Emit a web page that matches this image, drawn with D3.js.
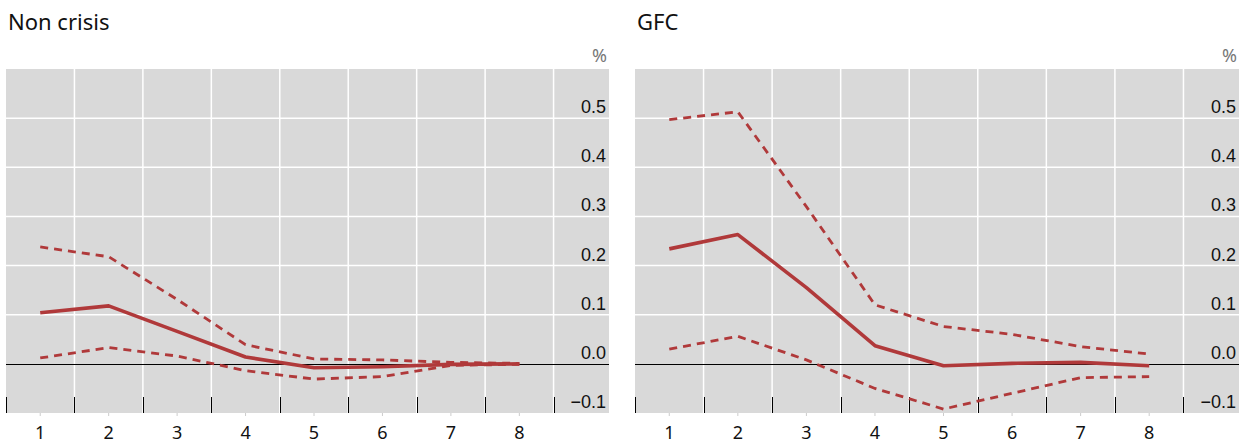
<!DOCTYPE html>
<html>
<head><meta charset="utf-8">
<title>Non crisis vs GFC</title>
<style>
body { margin:0; background:#fff; }
svg text { fill:#111; }
</style>
</head>
<body>
<svg width="1246" height="443"></svg>
<script src="https://d3js.org/d3.v7.min.js"></script>
<script>
// horizons on the x axis
var horizons = [1, 2, 3, 4, 5, 6, 7, 8];
var yTicks = [-0.1, 0.0, 0.1, 0.2, 0.3, 0.4, 0.5];

// Non crisis panel
var nonCrisisCentral = [0.104, 0.118, 0.066, 0.014, -0.008, -0.006, -0.001, 0.000];
var nonCrisisUpper   = [0.238, 0.218, 0.131, 0.039, 0.010, 0.008, 0.003, 0.001];
var nonCrisisLower   = [0.012, 0.033, 0.016, -0.014, -0.031, -0.026, -0.003, -0.001];

// GFC panel
var gfcCentral = [0.234, 0.263, 0.155, 0.037, -0.004, 0.001, 0.003, -0.004];
var gfcUpper   = [0.497, 0.513, 0.320, 0.120, 0.076, 0.060, 0.035, 0.020];
var gfcLower   = [0.030, 0.056, 0.008, -0.050, -0.092, -0.060, -0.028, -0.026];

var red = "#b0393a";
var svg = d3.select("svg");

var panels = [
  {title: "Non crisis", left: 6,   right: 609,  central: nonCrisisCentral, upper: nonCrisisUpper, lower: nonCrisisLower},
  {title: "GFC",        left: 635, right: 1239, central: gfcCentral,       upper: gfcUpper,       lower: gfcLower}
];

var plotTop = 69, plotBottom = 413;

var y = d3.scaleLinear().domain([-0.1, 0.6]).range([plotBottom, plotTop]);

panels.forEach(function(p) {
  var x = d3.scaleLinear().domain([0.5, 9.31]).range([p.left, p.right]);
  var g = svg.append("g");

  g.append("text")
    .attr("x", p.left + 2).attr("y", 30)
    .style("font-family", "'Noto Sans', 'Open Sans', sans-serif")
    .style("font-size", "22px")
    .text(p.title);

  g.append("text")
    .attr("x", p.right - 2).attr("y", 62)
    .attr("text-anchor", "end")
    .style("font-family", "'Noto Sans', sans-serif")
    .style("font-size", "18px")
    .style("fill", "#777")
    .text("%");

  g.append("rect")
    .attr("x", p.left).attr("y", plotTop)
    .attr("width", p.right - p.left).attr("height", plotBottom - plotTop)
    .attr("fill", "#d9d9d9");

  // horizontal gridlines
  g.selectAll(".hg").data(yTicks.filter(function(d) { return d > 0; }))
    .enter().append("line")
    .attr("x1", p.left).attr("x2", p.right)
    .attr("y1", function(d) { return y(d); }).attr("y2", function(d) { return y(d); })
    .attr("stroke", "#fff").attr("stroke-width", 1.5);

  // vertical gridlines between horizons
  var bounds = horizons.map(function(h) { return h + 0.5; });
  g.selectAll(".vg").data(bounds)
    .enter().append("line")
    .attr("x1", function(d) { return x(d); }).attr("x2", function(d) { return x(d); })
    .attr("y1", plotTop).attr("y2", plotBottom)
    .attr("stroke", "#fff").attr("stroke-width", 1.5);

  // black ticks at the bottom
  g.selectAll(".bt").data([0.5].concat(bounds))
    .enter().append("line")
    .attr("x1", function(d) { return Math.round(x(d)) + 0.5; })
    .attr("x2", function(d) { return Math.round(x(d)) + 0.5; })
    .attr("y1", plotBottom - 16).attr("y2", plotBottom)
    .attr("stroke", "#000").attr("stroke-width", 1);

  // faint ticks below labels
  g.selectAll(".lt").data(horizons)
    .enter().append("line")
    .attr("x1", function(d) { return x(d); }).attr("x2", function(d) { return x(d); })
    .attr("y1", plotBottom).attr("y2", plotBottom + 3)
    .attr("stroke", "#ccc").attr("stroke-width", 1);

  // zero line
  g.append("line")
    .attr("x1", p.left).attr("x2", p.right)
    .attr("y1", Math.round(y(0)) + 0.5).attr("y2", Math.round(y(0)) + 0.5)
    .attr("stroke", "#000").attr("stroke-width", 1.2);

  // y labels
  g.selectAll(".yl").data(yTicks)
    .enter().append("text")
    .attr("x", p.right - 3)
    .attr("y", function(d) { return y(d) - 5; })
    .attr("text-anchor", "end")
    .style("font-family", "'Liberation Sans', Arial, sans-serif")
    .style("font-size", "18px")
    .text(function(d) { return d < 0 ? "\u2212" + Math.abs(d).toFixed(1) : d.toFixed(1); });

  // x labels
  g.selectAll(".xl").data(horizons)
    .enter().append("text")
    .attr("x", function(d) { return x(d); })
    .attr("y", 439)
    .attr("text-anchor", "middle")
    .style("font-family", "'Noto Sans', 'Open Sans', sans-serif")
    .style("font-size", "18px")
    .text(function(d) { return d; });

  var line = d3.line()
    .x(function(d, i) { return x(horizons[i]); })
    .y(function(d) { return y(d); });

  [p.upper, p.lower].forEach(function(s) {
    g.append("path")
      .attr("d", line(s))
      .attr("fill", "none")
      .attr("stroke", red)
      .attr("stroke-width", 2.8)
      .attr("stroke-dasharray", "8,6");
  });

  g.append("path")
    .attr("d", line(p.central))
    .attr("fill", "none")
    .attr("stroke", red)
    .attr("stroke-width", 3.6)
    .attr("stroke-linejoin", "round");
});
</script>
</body>
</html>
